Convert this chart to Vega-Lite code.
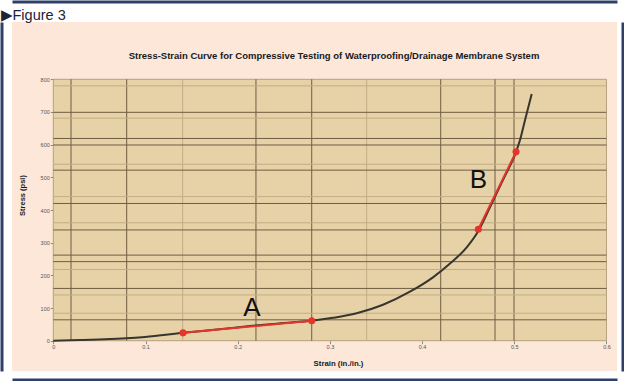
{
  "$schema": "https://vega.github.io/schema/vega-lite/v6.json",
  "width": 605,
  "height": 349,
  "autosize": {"type": "none"},
  "padding": {"left": 12, "top": 22, "right": 7, "bottom": 10},
  "background": "#ffffff",
  "view": {"fill": "#fce7d9", "stroke": null},
  "config": {"font": "Liberation Sans"},
  "datasets": {
    "curve": [
      {"strain": 0.0, "stress": 0},
      {"strain": 0.029, "stress": 2},
      {"strain": 0.0615, "stress": 5},
      {"strain": 0.0995, "stress": 11},
      {"strain": 0.1407, "stress": 24},
      {"strain": 0.18, "stress": 35},
      {"strain": 0.2133, "stress": 45},
      {"strain": 0.25, "stress": 54},
      {"strain": 0.2803, "stress": 61},
      {"strain": 0.3034, "stress": 70},
      {"strain": 0.3291, "stress": 84},
      {"strain": 0.3576, "stress": 110},
      {"strain": 0.3868, "stress": 150},
      {"strain": 0.4118, "stress": 194},
      {"strain": 0.4303, "stress": 236},
      {"strain": 0.4484, "stress": 286},
      {"strain": 0.461, "stress": 336},
      {"strain": 0.4736, "stress": 408},
      {"strain": 0.4877, "stress": 492},
      {"strain": 0.5019, "stress": 578},
      {"strain": 0.5062, "stress": 614},
      {"strain": 0.5116, "stress": 675},
      {"strain": 0.5189, "stress": 755}
    ],
    "tangents": [
      {"seg": "A", "strain": 0.1407, "stress": 24},
      {"seg": "A", "strain": 0.2803, "stress": 61},
      {"seg": "B", "strain": 0.461, "stress": 341},
      {"seg": "B", "strain": 0.5019, "stress": 578}
    ],
    "labels": [
      {"label": "A", "strain": 0.2155, "stress": 77},
      {"label": "B", "strain": 0.461, "stress": 467}
    ],
    "vlines": [
      {"strain": 0.0192, "kind": "major"},
      {"strain": 0.0796, "kind": "major"},
      {"strain": 0.1403, "kind": "minor"},
      {"strain": 0.2198, "kind": "major"},
      {"strain": 0.2803, "kind": "major"},
      {"strain": 0.3399, "kind": "minor"},
      {"strain": 0.4202, "kind": "major"},
      {"strain": 0.4791, "kind": "major"},
      {"strain": 0.4997, "kind": "major"}
    ],
    "hlines": [
      {"stress": 780, "kind": "minor"},
      {"stress": 699, "kind": "major"},
      {"stress": 681, "kind": "minor"},
      {"stress": 619, "kind": "major"},
      {"stress": 599, "kind": "major"},
      {"stress": 540, "kind": "minor"},
      {"stress": 522, "kind": "major"},
      {"stress": 441, "kind": "minor"},
      {"stress": 420, "kind": "major"},
      {"stress": 361, "kind": "minor"},
      {"stress": 339, "kind": "major"},
      {"stress": 262, "kind": "major"},
      {"stress": 242, "kind": "major"},
      {"stress": 218, "kind": "minor"},
      {"stress": 160, "kind": "major"},
      {"stress": 140, "kind": "minor"},
      {"stress": 84, "kind": "minor"},
      {"stress": 64, "kind": "major"}
    ]
  },
  "layer": [
    {
      "data": {"values": [{"panel": "plot"}]},
      "mark": {"type": "rect", "fill": "#e7d1a7", "stroke": "#a8936f", "strokeWidth": 0.8},
      "encoding": {
        "x": {"datum": 0, "type": "quantitative", "scale": {"domain": [-0.0448, 0.6114], "nice": false, "zero": false},
          "axis": {"orient": "top", "offset": 0, "domain": false, "ticks": false, "labels": false, "grid": false,
            "title": "Stress-Strain Curve for Compressive Testing of Waterproofing/Drainage Membrane System",
            "titleX": 321.5, "titleY": 33, "titleAlign": "center", "titleBaseline": "middle", "titleAngle": 0,
            "titleFont": "Liberation Sans", "titleFontSize": 9.5, "titleFontWeight": "bold", "titleColor": "#1a1a1a"}},
        "x2": {"datum": 0.6},
        "y": {"datum": 0, "type": "quantitative", "scale": {"domain": [-92.7, 975.4], "nice": false, "zero": false},
          "axis": {"orient": "left", "offset": 10.5, "domain": true, "domainColor": "#2f4068", "domainWidth": 3, "ticks": false, "labels": false, "grid": false, "title": null}},
        "y2": {"datum": 800}
      }
    },
    {
      "data": {"name": "vlines"},
      "mark": {"type": "rule", "strokeWidth": 1},
      "encoding": {
        "x": {"field": "strain", "type": "quantitative", "axis": null},
        "y": {"datum": 0, "type": "quantitative", "axis": null},
        "y2": {"datum": 800},
        "color": {"field": "kind", "type": "nominal", "scale": {"domain": ["major", "minor"], "range": ["#6f5d43", "#c3ad86"]}, "legend": null}
      }
    },
    {
      "data": {"name": "hlines"},
      "mark": {"type": "rule", "strokeWidth": 1},
      "encoding": {
        "y": {"field": "stress", "type": "quantitative", "axis": null},
        "x": {"datum": 0, "type": "quantitative", "axis": null},
        "x2": {"datum": 0.6},
        "color": {"field": "kind", "type": "nominal", "legend": null}
      }
    },
    {
      "data": {"name": "curve"},
      "mark": {"type": "line", "color": "#36352e", "strokeWidth": 2, "interpolate": "monotone"},
      "encoding": {
        "x": {"field": "strain", "type": "quantitative",
          "axis": {"orient": "bottom", "offset": -30.3, "values": [0, 0.1, 0.2, 0.3, 0.4, 0.5, 0.6], "format": "~g",
            "domain": false, "grid": false, "ticks": true, "tickSize": 3, "tickColor": "#8a8a8a",
            "labelFont": "Liberation Sans", "labelFontSize": 5.5, "labelColor": "#555555", "labelPadding": 1,
            "title": "Strain (in./in.)", "titleX": 326, "titleY": 22.3, "titleAlign": "center", "titleBaseline": "middle",
            "titleFont": "Liberation Sans", "titleFontSize": 7.8, "titleFontWeight": "bold", "titleColor": "#1a1a1a"}},
        "y": {"field": "stress", "type": "quantitative",
          "axis": {"orient": "left", "offset": -41.3, "values": [0, 100, 200, 300, 400, 500, 600, 700, 800], "format": "d",
            "domain": false, "grid": false, "ticks": true, "tickSize": 3, "tickColor": "#8a8a8a",
            "labelFont": "Liberation Sans", "labelFontSize": 5.5, "labelColor": "#555555", "labelPadding": 1,
            "title": "Stress (psi)", "titleX": -31, "titleY": 173, "titleAngle": -90, "titleAlign": "center", "titleBaseline": "middle",
            "titleFont": "Liberation Sans", "titleFontSize": 7.5, "titleFontWeight": "bold", "titleColor": "#1a1a1a"}}
      }
    },
    {
      "data": {"name": "tangents"},
      "mark": {"type": "line", "color": "#e5342b", "strokeWidth": 2},
      "encoding": {
        "x": {"field": "strain", "type": "quantitative",
          "axis": {"orient": "top", "offset": 20.5, "domain": true, "domainColor": "#2f4068", "domainWidth": 3, "ticks": false, "labels": false, "grid": false,
            "title": "▶Figure 3", "titleX": -12, "titleY": 17.8, "titleAlign": "left", "titleBaseline": "alphabetic", "titleAngle": 0,
            "titleFont": "Liberation Sans", "titleFontSize": 14.5, "titleFontWeight": "normal", "titleColor": "#1d2438"}},
        "y": {"field": "stress", "type": "quantitative",
          "axis": {"orient": "right", "offset": 5.5, "domain": true, "domainColor": "#2f4068", "domainWidth": 3, "ticks": false, "labels": false, "grid": false, "title": null}},
        "detail": {"field": "seg", "type": "nominal"}
      }
    },
    {
      "data": {"name": "tangents"},
      "mark": {"type": "circle", "color": "#e5342b", "opacity": 1, "size": 50},
      "encoding": {
        "x": {"field": "strain", "type": "quantitative",
          "axis": {"orient": "bottom", "offset": 8.5, "domain": true, "domainColor": "#2f4068", "domainWidth": 3, "ticks": false, "labels": false, "grid": false, "title": null}},
        "y": {"field": "stress", "type": "quantitative", "axis": null}
      }
    },
    {
      "data": {"name": "labels"},
      "mark": {"type": "text", "font": "Liberation Sans", "fontSize": 26, "color": "#111111", "align": "center", "baseline": "alphabetic"},
      "encoding": {
        "x": {"field": "strain", "type": "quantitative", "axis": null},
        "y": {"field": "stress", "type": "quantitative", "axis": null},
        "text": {"field": "label", "type": "nominal"}
      }
    }
  ],
  "resolve": {"axis": {"x": "independent", "y": "independent"}}
}
